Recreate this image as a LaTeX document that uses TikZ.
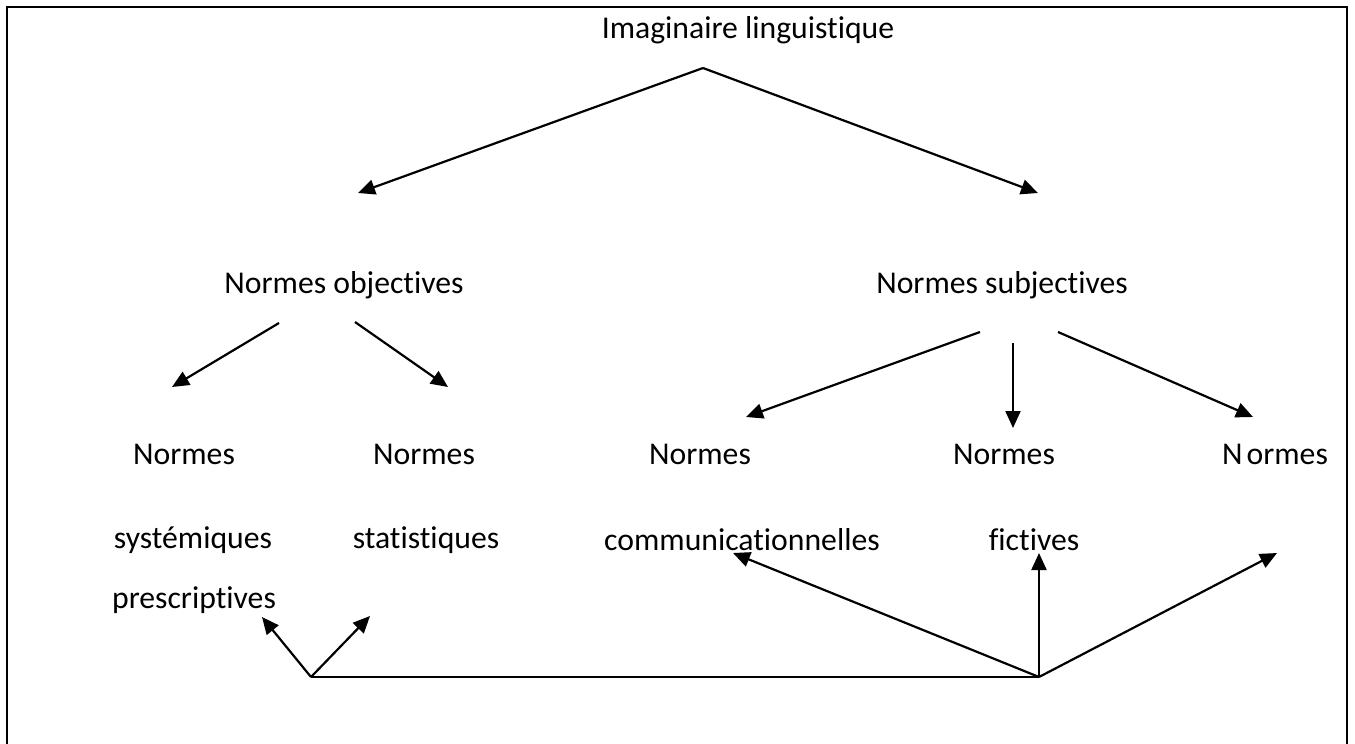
\documentclass[tikz,border=0pt]{standalone}
\usepackage{fontspec}
\setmainfont[RawFeature={-liga}]{Carlito}
\usetikzlibrary{arrows.meta}
\begin{document}
\begin{tikzpicture}[x=1pt,y=-1pt,
  label/.style={inner sep=0pt,anchor=base,font=\fontsize{31.7}{38}\selectfont},
  link/.style={line width=2.2pt,-{Triangle[length=17pt,width=15pt]}},
  plain/.style={line width=2.2pt}]
\useasboundingbox (0,0) rectangle (1355,744);
% frame, open at the bottom
\draw[line width=2.6pt] (7,744) -- (7,7) -- (1347,7) -- (1347,744);

% texts
\node[label] (root) at (748,38) {Imaginaire linguistique};
\node[label] (obj) at (344,293) {Normes objectives};
\node[label] (subj) at (1002,293) {Normes subjectives};
\node[label] (sys1) at (184,464) {Normes};
\node[label] (sys2) at (193,548) {systémiques};
\node[label] (sys3) at (194,608) {prescriptives};
\node[label] (sta1) at (424,464) {Normes};
\node[label] (sta2) at (426,548) {statistiques};
\node[label] (com1) at (700,464) {Normes};
\node[label] (com2) at (742,550) {communicationnelles};
\node[label] (fic1) at (1004,464) {Normes};
\node[label] (fic2) at (1034,550) {fictives};
\node[label] (thr1) at (1275,464) {N\kern4pt ormes};

% connector ends
\coordinate (apex) at (703,68);
\coordinate (objIn) at (358,193);
\coordinate (subjIn) at (1038,193);
\coordinate (objL) at (279,323);
\coordinate (objR) at (355,322);
\coordinate (sysIn) at (172,387);
\coordinate (staIn) at (448,387);
\coordinate (subjL) at (980,332);
\coordinate (subjM) at (1013,343);
\coordinate (subjR) at (1058,332);
\coordinate (comIn) at (746,417);
\coordinate (ficIn) at (1013,428);
\coordinate (thrIn) at (1253,417);
\coordinate (hubL) at (311,677);
\coordinate (hubR) at (1039,677);
\coordinate (sysUp) at (262,617);
\coordinate (staUp) at (370,616);
\coordinate (comUp) at (733,553);
\coordinate (ficUp) at (1039,553);
\coordinate (thrUp) at (1277,553);

% top level
\draw[link] (apex) -- (objIn);
\draw[link] (apex) -- (subjIn);
% objective norms
\draw[link] (objL) -- (sysIn);
\draw[link] (objR) -- (staIn);
% subjective norms
\draw[link] (subjL) -- (comIn);
\draw[link] (subjM) -- (ficIn);
\draw[link] (subjR) -- (thrIn);
% bottom links
\draw[plain] (hubL) -- (hubR);
\draw[link] (hubL) -- (sysUp);
\draw[link] (hubL) -- (staUp);
\draw[link] (hubR) -- (comUp);
\draw[link] (hubR) -- (ficUp);
\draw[link] (hubR) -- (thrUp);
\end{tikzpicture}
\end{document}
